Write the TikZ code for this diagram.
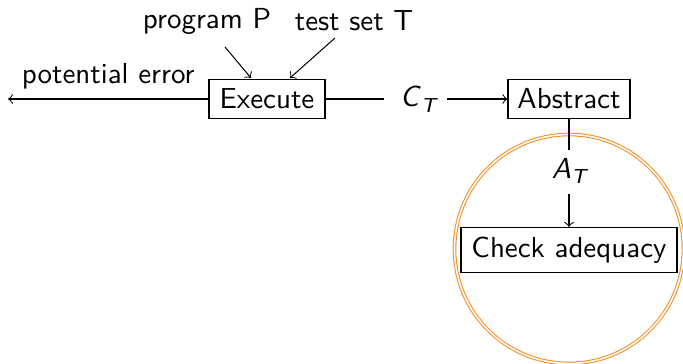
\documentclass[tikz,border=0pt]{standalone}
\renewcommand{\familydefault}{\sfdefault}
\newcommand{\sfsub}[2]{\textit{#1}\raisebox{-0.45ex}{\scriptsize\itshape #2}}
\definecolor{ringorange}{RGB}{245,140,30}
\begin{document}
\begin{tikzpicture}[x=0.345pt,y=-0.345pt,
  box/.style={draw,rectangle,inner sep=0pt,line width=0.4pt,minimum height=39*0.345pt},
  lbl/.style={inner sep=1pt},
  ring/.style={draw=ringorange,double,double distance=0.55pt,line width=0.35pt,circle,minimum size=229*0.345pt,inner sep=0pt},
  flow/.style={->,line width=0.35pt}]
  \useasboundingbox (0,0) rectangle (683,364);

  % processing steps
  \node[box,minimum width=116*0.345pt] (exec) at (267,99) {Execute};
  \node[box,minimum width=122*0.345pt] (abs) at (569,99) {Abstract};
  \node[box,minimum width=216*0.345pt,minimum height=45*0.345pt] (check) at (569,250) {Check adequacy};
  \node[ring] (focus) at (569,249) {};

  % inputs
  \node[lbl] (prog) at (207,21) {program P};
  \node[lbl] (tests) at (354,21) {test set T};
  \coordinate (progend) at (251,78);
  \coordinate (testsend) at (290,78);
  \coordinate (progstart) at (225,47);
  \coordinate (testsstart) at (335,38);
  \draw[flow] (progstart) -- (progend);
  \draw[flow] (testsstart) -- (testsend);

  % error output
  \coordinate (err) at (8,99);
  \draw[flow] (exec.west) -- node[above,lbl,yshift=2.3pt] {potential error} (err);

  % execution traces
  \node[lbl] (ct) at (418,99) {\sfsub{C}{T}};
  \draw[line width=0.35pt] (exec.east) -- (384,99);
  \coordinate (ctout) at (447,99);
  \draw[flow] (ctout) -- (abs.west);

  % abstraction
  \node[lbl] (at) at (569,171) {\sfsub{A}{T}};
  \coordinate (atin) at (569,150);
  \coordinate (atout) at (569,194);
  \draw[line width=0.35pt] (abs.south) -- (atin);
  \draw[flow] (atout) -- (check.north);
\end{tikzpicture}
\end{document}
